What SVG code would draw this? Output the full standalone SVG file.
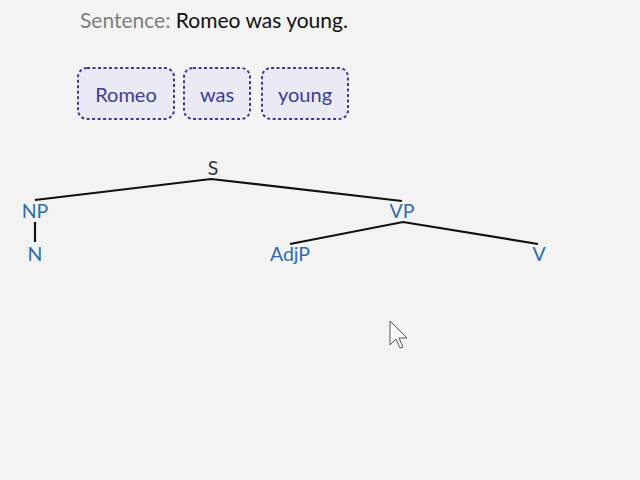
<svg xmlns="http://www.w3.org/2000/svg" width="640" height="480" viewBox="0 0 640 480">
<style>
text{font-family:Lato,"Open Sans","Liberation Sans",sans-serif}
.word rect{fill:#eaeaf5;stroke:#3b3c96;stroke-width:2;stroke-dasharray:3 2.5}
.word text{fill:#3b3c9c;font-size:20px;text-anchor:middle}
.lbl{fill:#2f6db0;font-size:19.5px;text-anchor:middle}
.root{fill:#333;font-size:19.5px;text-anchor:middle}
.edge{stroke:#111;stroke-width:2.2;fill:none}
</style>
<rect width="640" height="480" fill="#f3f3f3"/>
<text x="80" y="28" font-size="21"><tspan fill="#808080">Sentence:</tspan><tspan fill="#111"> Romeo was young.</tspan></text>
<g id="w-romeo" class="word"><rect x="78" y="68" width="96" height="51" rx="9"/><text x="126" y="102">Romeo</text></g>
<g id="w-was" class="word"><rect x="184" y="68" width="66" height="51" rx="9"/><text x="217" y="102">was</text></g>
<g id="w-young" class="word"><rect x="262" y="68" width="86" height="51" rx="9"/><text x="305" y="102">young</text></g>
<g id="connectors">
<path class="edge" d="M35 200 L211 179 L402 201"/>
<path class="edge" d="M35 222 L35 242"/>
<path class="edge" d="M290 244 L403 222 L538 244"/>
</g>
<g id="n-S"><text class="root" x="213" y="175">S</text></g>
<g id="n-NP"><text class="lbl" x="35" y="218">NP</text></g>
<g id="n-N"><text class="lbl" x="35" y="261">N</text></g>
<g id="n-VP"><text class="lbl" x="402" y="218">VP</text></g>
<g id="n-AdjP"><text class="lbl" x="290" y="261">AdjP</text></g>
<g id="n-V"><text class="lbl" x="539" y="261">V</text></g>
<path d="M390 321 L390 345 L396 339 L400 348 L403 347 L399 338 L407 338 Z" fill="#fff" stroke="#555" stroke-width="1"/>
</svg>
